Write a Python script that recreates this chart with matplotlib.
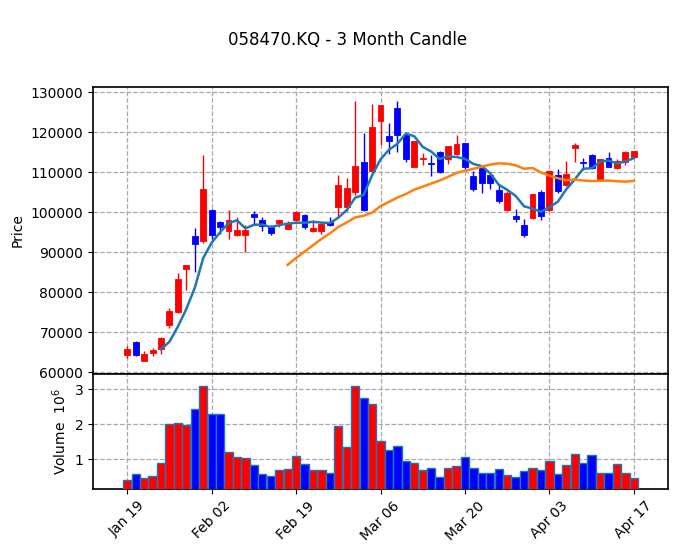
import matplotlib
matplotlib.use("Agg")
import matplotlib.pyplot as plt
import numpy as np
import pandas as pd


TITLE = "058470.KQ - 3 Month Candle"
TICK_LABELS = ["Jan 19", "Feb 02", "Feb 19", "Mar 06", "Mar 20", "Apr 03", "Apr 17"]

OPENS = [
    64300, 67600, 62700, 64700, 65900, 71700, 75000, 85700, 94000, 92700,
    100600, 97600, 95400, 94400, 94200, 99600, 98100, 96200, 97200, 95900,
    98100, 99300, 95400, 95400, 97600, 101400, 101400, 105100, 112600, 110400,
    122700, 119100, 126100, 119200, 111300, 113200, 112200, 115100, 113400, 114500,
    117300, 109100, 111000, 109200, 105600, 100600, 99000, 96800, 98500, 105100,
    100600, 109200, 106700, 116000, 112600, 114300, 108300, 113500, 111000, 112500,
    113900,
]
HIGHS = [
    66600, 67700, 65400, 66100, 68700, 76000, 84700, 86700, 96000, 114200,
    100700, 97900, 100500, 98700, 96700, 100200, 98700, 96700, 98100, 97700,
    100300, 99600, 98000, 97300, 98900, 109400, 108500, 127700, 119700, 127100,
    126800, 122200, 127900, 119900, 117800, 114800, 114300, 115200, 116500, 119300,
    117300, 110400, 111100, 110100, 107000, 105200, 100700, 98200, 104500, 105600,
    110500, 110900, 112700, 117200, 113500, 114500, 113200, 115100, 113200, 115200,
    115300,
]
LOWS = [
    63500, 64000, 62700, 64000, 64600, 71000, 74700, 80500, 85000, 92200,
    93200, 94500, 93400, 94000, 90000, 96700, 95400, 94400, 96200, 95700,
    97700, 95900, 95000, 94500, 96600, 98900, 100200, 104200, 100400, 109900,
    116800, 114500, 115100, 112500, 111200, 111700, 109100, 109900, 112100, 114200,
    110700, 105300, 104700, 105700, 102200, 100200, 97600, 93900, 98200, 98000,
    100200, 104800, 106600, 112500, 110600, 110800, 108300, 111200, 110700, 111700,
    113500,
]
CLOSES = [
    65800, 64300, 64600, 65600, 68500, 75200, 83200, 86700, 92000, 105700,
    94400, 96300, 98000, 95600, 95600, 98900, 96500, 94900, 98100, 97400,
    100100, 96400, 96100, 97100, 96800, 106800, 106000, 111600, 100600, 121200,
    126800, 117900, 119200, 113300, 117800, 113600, 112000, 110000, 116500, 117000,
    111200, 105800, 107200, 107400, 102900, 104800, 98200, 94200, 104500, 99000,
    110300, 105300, 109600, 116800, 112400, 111000, 113200, 111400, 112900, 115000,
    115300,
]
# volume in millions of shares
VOLUMES = [
    0.42, 0.57, 0.47, 0.51, 0.89, 2.00, 2.03, 1.97, 2.43, 3.11,
    2.29, 2.29, 1.20, 1.06, 1.03, 0.83, 0.57, 0.51, 0.69, 0.71,
    1.09, 0.86, 0.69, 0.69, 0.60, 1.94, 1.34, 3.11, 2.74, 2.57,
    1.51, 1.26, 1.37, 0.94, 0.89, 0.69, 0.74, 0.49, 0.74, 0.80,
    1.06, 0.74, 0.60, 0.60, 0.71, 0.54, 0.49, 0.66, 0.74, 0.69,
    0.94, 0.57, 0.83, 1.14, 0.89, 1.11, 0.60, 0.60, 0.86, 0.60,
    0.46,
]
MAV = (5, 20)

UP_COLOR = "#ff0000"
DOWN_COLOR = "#0000ff"


def main():
    df = pd.DataFrame({"open": OPENS, "high": HIGHS, "low": LOWS, "close": CLOSES, "volume": VOLUMES})
    x = np.arange(len(df))
    up = df["close"] >= df["open"]
    colors = np.where(up, UP_COLOR, DOWN_COLOR)

    fig = plt.figure(figsize=(6.78, 5.53), dpi=100)
    ax = fig.add_axes([0.1372, 0.3237, 0.8481, 0.519])
    vax = fig.add_axes([0.1372, 0.1157, 0.8481, 0.208], sharex=ax)

    grid_kw = dict(color="#a9a9a9", linestyle="--", linewidth=0.9)

    # candles
    ax.vlines(x, df["low"], df["high"], colors=colors, linewidth=1.0, zorder=2)
    body_bottom = np.minimum(df["open"], df["close"])
    body_height = np.maximum(np.abs(df["close"] - df["open"]), 150)
    ax.bar(x, body_height, bottom=body_bottom, width=0.7, color=colors, edgecolor=colors,
           linewidth=0.6, zorder=3)

    mav_colors = ["#1f77b4", "#ff7f0e"]
    for n, c in zip(MAV, mav_colors):
        ax.plot(x, df["close"].rolling(n).mean(), color=c, linewidth=1.8, zorder=4)

    ax.set_xlim(-4.05, 64.05)
    ax.set_ylim(59575, 131325)
    ax.set_yticks(np.arange(60000, 130001, 10000))
    ax.ticklabel_format(axis="y", style="plain", useOffset=False)
    ax.set_ylabel("Price")
    ax.grid(True, **grid_kw)
    ax.set_axisbelow(True)
    plt.setp(ax.get_xticklabels(), visible=False)

    # volume
    vax.bar(x, df["volume"], width=0.98, color=colors, edgecolor="#1f77b4", linewidth=1.0, zorder=3)
    vax.set_ylim(0.15, 3.44)
    vax.set_yticks([1, 2, 3])
    vax.set_ylabel("Volume  $10^{6}$")
    vax.grid(True, **grid_kw)
    vax.set_axisbelow(True)
    vax.set_xticks(x[::10])
    vax.set_xticklabels(TICK_LABELS, rotation=45, ha="center")

    for a in (ax, vax):
        for s in a.spines.values():
            s.set_linewidth(1.2)

    fig.text(0.5125, 0.928, TITLE, ha="center", va="center", fontsize=12)
    fig.savefig("out.png", dpi=100)
    plt.close(fig)


if __name__ == "__main__":
    main()
